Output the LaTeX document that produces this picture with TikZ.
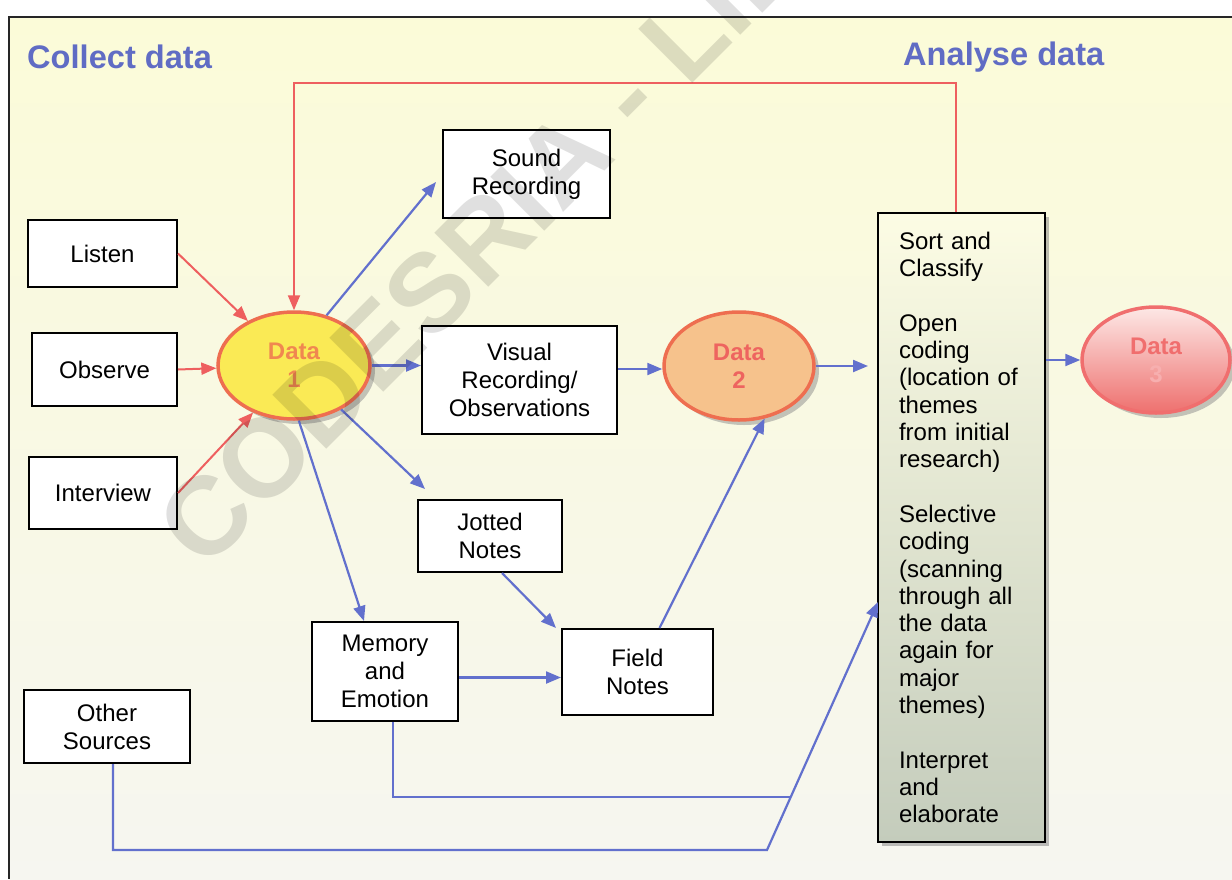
\documentclass[tikz,border=0pt]{standalone}
\usepackage{fontspec}
\setmainfont{Liberation Sans}
\usetikzlibrary{arrows.meta,shapes.geometric,shadows,calc}
\definecolor{bl}{RGB}{98,112,205}
\definecolor{rd}{RGB}{238,95,95}
\definecolor{hd}{RGB}{96,108,196}
\definecolor{dOneFill}{RGB}{250,234,85}
\definecolor{dOneLine}{RGB}{238,110,80}
\definecolor{dOneText}{RGB}{240,135,80}
\definecolor{dTwoFill}{RGB}{246,194,140}
\definecolor{dTwoText}{RGB}{238,100,95}
\definecolor{dThreeLine}{RGB}{240,110,110}
\definecolor{dThreeTop}{RGB}{253,232,230}
\definecolor{dThreeBot}{RGB}{238,112,110}
\definecolor{bgtop}{RGB}{251,251,216}
\definecolor{bgbot}{RGB}{246,246,240}
\definecolor{sorttop}{RGB}{252,252,228}
\definecolor{sortbot}{RGB}{196,204,188}
\begin{document}
\begin{tikzpicture}[x=1pt,y=-1pt,
  font=\fontsize{24}{28}\selectfont,
  box/.style={draw=black,line width=2pt,fill=white,align=center,inner sep=0pt},
  dataell/.style={ellipse,line width=3.5pt,inner sep=0pt,align=center,
    font=\bfseries\fontsize{24}{28}\selectfont,
    drop shadow={shadow xshift=5pt,shadow yshift=-5pt,fill=black!45,opacity=0.5}},
  blline/.style={draw=bl,line width=2.2pt},
  blarrow/.style={blline,-{Triangle[length=15pt,width=12pt]}},
  rdline/.style={draw=rd,line width=2pt},
  rdarrow/.style={rdline,-{Triangle[length=15pt,width=12pt]}},
  head/.style={anchor=west,text=hd,font=\bfseries\fontsize{32.6}{36}\selectfont,inner sep=0pt}
]
\useasboundingbox (0,0) rectangle (1232,879);
\fill[white] (0,0) rectangle (1232,879);
\shade[top color=bgtop,bottom color=bgbot] (9,17) rectangle (1232,879);
\draw[line width=2pt,black!85] (9,879) -- (9,17) -- (1232,17);

% headings
\node[head] (hcollect) at (27,57) {Collect data};
\node[head] (hanalyse) at (903,57) {Analyse data};

% boxes
\node[box,minimum width=149pt,minimum height=67pt] (listen) at (102.5,253.5) {Listen};
\node[box,minimum width=145pt,minimum height=73pt] (observe) at (104.5,369.5) {Observe};
\node[box,minimum width=148pt,minimum height=72pt] (interview) at (103,493) {Interview};
\node[box,minimum width=167pt,minimum height=88pt] (sound) at (526.5,174) {Sound\\Recording};
\node[box,minimum width=195pt,minimum height=108pt] (visual) at (519.5,380) {Visual\\Recording/\\Observations};
\node[box,minimum width=144pt,minimum height=72pt] (jotted) at (490,536) {Jotted\\Notes};
\node[box,minimum width=146pt,minimum height=99pt] (memory) at (385,671.5) {Memory\\and\\Emotion};
\node[box,minimum width=151pt,minimum height=86pt] (field) at (637.5,672) {Field\\Notes};
\node[box,minimum width=166pt,minimum height=73pt] (other) at (107,726.5) {Other\\Sources};

% sort box
\node[draw=black,line width=2pt,top color=sorttop,bottom color=sortbot,
  minimum width=167pt,minimum height=629pt,inner xsep=21pt,inner ysep=0pt,
  text width=125pt,align=left,font=\fontsize{24}{27.3}\selectfont,
  drop shadow={shadow xshift=4pt,shadow yshift=-4pt,fill=black!50,opacity=0.5}]
  (sort) at (961.5,527.5)
  {Sort and\\Classify\\[27.3pt]Open\\coding\\(location of\\themes\\from initial\\research)\\[27.3pt]Selective\\coding\\(scanning\\through all\\the data\\again for\\major\\themes)\\[27.3pt]Interpret\\and\\elaborate};

% data ellipses
\node[dataell,fill=dOneFill,draw=dOneLine,text=dOneText,minimum width=152pt,minimum height=107pt] (d1) at (294,365.5) {Data\\1};
\node[dataell,fill=dTwoFill,draw=dOneLine,text=dTwoText,minimum width=150pt,minimum height=108pt] (d2) at (739,366) {Data\\2};
\node[dataell,top color=dThreeTop,bottom color=dThreeBot,draw=dThreeLine,text=dThreeLine,minimum width=148pt,minimum height=106pt] (d3) at (1156,360) {Data\\\textcolor{dThreeLine!55}{3}};

% helper coordinates
\coordinate (topy) at (0,83);
\coordinate (ve) at ([yshift=11pt]visual.east);
\coordinate (d2s) at (d2.east -| sort.west);
\coordinate (me) at ([yshift=-6pt]memory.east);
\coordinate (j1) at (767,850);
\coordinate (stip) at (878,602);
\coordinate (j2) at ($(j1)!0.2137!(stip)$);

% red connectors
\draw[rdarrow] (listen.east) -- (d1);
\draw[rdarrow] (observe.east) -- (d1);
\draw[rdarrow] (interview.east) -- (d1.229);
\draw[rdarrow] ([xshift=-6pt]sort.north) |- (d1.north |- topy) -- (d1.north);

% blue connectors
\draw[blarrow] (d1.57) -- ([shift={(-6pt,-8pt)}]sound.west);
\draw[blarrow] (d1.east) -- (d1.east -| visual.west);
\draw[blarrow] (d1.-43) -- ([shift={(8pt,10pt)}]jotted.north west);
\draw[blarrow] (d1.-85) -- ([xshift=-21pt]memory.north);
\draw[blarrow] (ve) -- (ve -| d2.west);
\draw[blarrow] (d2.east) -- ([xshift=-9pt]d2s);
\draw[blarrow] (sort.east |- d3) -- (d3.west);
\draw[blarrow] ([xshift=12pt]jotted.south) -- ([xshift=-5pt]field.north west);
\draw[blarrow] (me) -- (me -| field.west);
\draw[blarrow] ([xshift=22pt]field.north) -- (d2.-64);
\draw[blline] ([xshift=8pt]memory.south) |- (j2);
\draw[blarrow] ([xshift=6pt]other.south) |- (j1) -- (stip);

% watermark
\node[rotate=45,text=black,text opacity=0.12,inner sep=0pt,font=\bfseries\fontsize{111}{111}\selectfont] (wmark) at (592,130)
  {CODESRIA - LIBRARY};
\end{tikzpicture}
\end{document}
